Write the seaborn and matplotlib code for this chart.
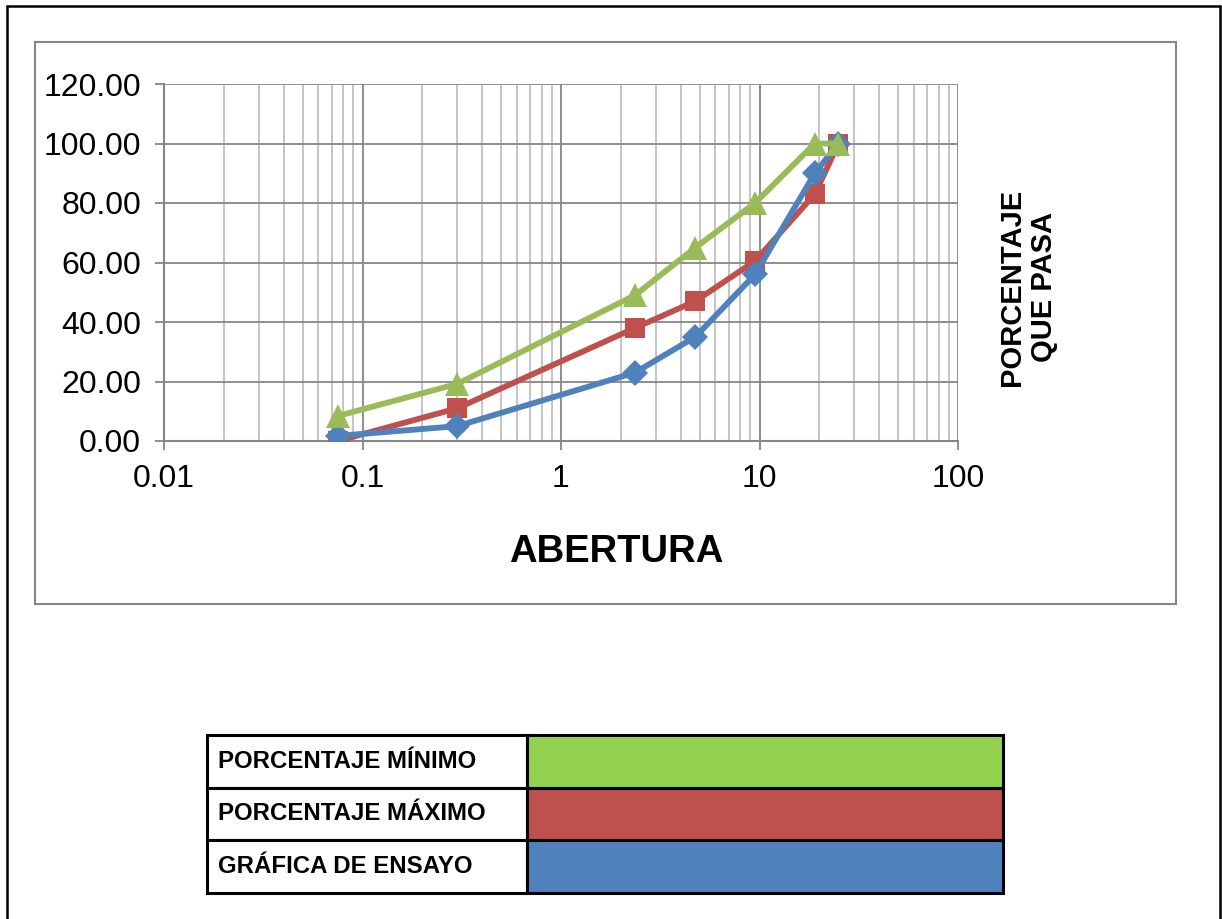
import matplotlib
matplotlib.use("Agg")
import matplotlib.pyplot as plt
from matplotlib.patches import Rectangle
from matplotlib.lines import Line2D
from matplotlib.ticker import FixedLocator, LogLocator, NullFormatter
import seaborn as sns
import pandas as pd

abertura = [0.075, 0.3, 2.36, 4.75, 9.5, 19, 25]
pct_minimo = [8.4, 19.2, 49, 65, 80, 100, 100]
pct_maximo = [0, 11, 38, 47, 60.5, 83, 100]
pct_ensayo = [1.7, 5, 23, 35, 56, 90, 100]

y_ticks = [0, 20, 40, 60, 80, 100, 120]
x_ticks = [0.01, 0.1, 1, 10, 100]
x_labels = ['0.01', '0.1', '1', '10', '100']

legend_names = ['PORCENTAJE MÍNIMO', 'PORCENTAJE MÁXIMO', 'GRÁFICA DE ENSAYO']
legend_colors = ['#92D050', '#C0504D', '#4F81BD']

sns.set_style("white")
plt.rcParams['font.family'] = ['Liberation Sans', 'DejaVu Sans']
plt.rcParams['text.color'] = 'black'
plt.rcParams['xtick.color'] = 'black'
plt.rcParams['ytick.color'] = 'black'

W, H = 1222, 919
fig = plt.figure(figsize=(W / 100, H / 100), dpi=100)


def fx(px):
    return px / W


def fy(py):
    return 1 - py / H


# outer black frame (bottom edge is off the picture)
for xs, ys in [([7, 7], [6, 925]), ([7, 1220], [6, 6]), ([1220, 1220], [6, 925])]:
    fig.add_artist(Line2D([fx(x) for x in xs], [fy(y) for y in ys], color='black', lw=1.8))

# chart area box
fig.add_artist(Rectangle((fx(35), fy(604)), fx(1176) - fx(35), fy(42) - fy(604),
                         fill=False, edgecolor='#868686', lw=1.5))

ax = fig.add_axes([fx(164), fy(441), fx(958) - fx(164), fy(84) - fy(441)])

df = pd.DataFrame({'abertura': abertura, 'minimo': pct_minimo,
                   'maximo': pct_maximo, 'ensayo': pct_ensayo})

sns.lineplot(data=df, x='abertura', y='maximo', ax=ax, color='#C0504D', lw=4.2,
             marker='s', markersize=14, markeredgewidth=0, zorder=3)
sns.lineplot(data=df, x='abertura', y='ensayo', ax=ax, color='#4F81BD', lw=4.2,
             marker='D', markersize=13, markeredgewidth=0, zorder=4)
sns.lineplot(data=df, x='abertura', y='minimo', ax=ax, color='#9BBB59', lw=4.2,
             marker='^', markersize=17, markeredgewidth=0, zorder=5)

ax.set_xscale('log')
ax.set_xlim(0.01, 100)
ax.set_ylim(0, 120)
ax.xaxis.set_major_locator(FixedLocator(x_ticks))
ax.set_xticklabels(x_labels)
ax.xaxis.set_minor_locator(LogLocator(base=10, subs=range(2, 10)))
ax.xaxis.set_minor_formatter(NullFormatter())
ax.set_yticks(y_ticks)
ax.set_yticklabels([f'{v:.2f}' for v in y_ticks])
ax.set_xlabel('')
ax.set_ylabel('')

ax.grid(True, which='major', axis='both', color='#868686', lw=1.3)
ax.grid(True, which='minor', axis='x', color='#BFBFBF', lw=1.3)
ax.set_axisbelow(True)
for side in ['top', 'right']:
    ax.spines[side].set_visible(False)
for side in ['left', 'bottom']:
    ax.spines[side].set_color('#868686')
    ax.spines[side].set_linewidth(1.5)

ax.tick_params(axis='both', which='major', direction='out', length=6.5, width=1.3,
               color='#868686', labelcolor='black', labelsize=23, pad=10,
               left=True, bottom=True)
ax.tick_params(axis='x', which='minor', length=0)

fig.text(fx(616), fy(552), 'ABERTURA', fontsize=27.5, fontweight='bold',
         ha='center', va='center')
fig.text(fx(1028), fy(287), 'PORCENTAJE\nQUE PASA', fontsize=21, fontweight='bold',
         rotation=90, ha='center', va='center', multialignment='center', linespacing=1.15)

# legend table
rows = [(735, 788), (788, 840), (840, 893)]
for (top, bot), name, col in zip(rows, legend_names, legend_colors):
    fig.add_artist(Rectangle((fx(207), fy(bot)), fx(527) - fx(207), fy(top) - fy(bot),
                             facecolor='white', edgecolor='black', lw=2.2))
    fig.add_artist(Rectangle((fx(527), fy(bot)), fx(1003) - fx(527), fy(top) - fy(bot),
                             facecolor=col, edgecolor='black', lw=2.2))
    fig.text(fx(218), fy((top + bot) / 2), name, fontsize=17.3, fontweight='bold',
             ha='left', va='center')

fig.savefig('out.png', dpi=100)
plt.close(fig)
